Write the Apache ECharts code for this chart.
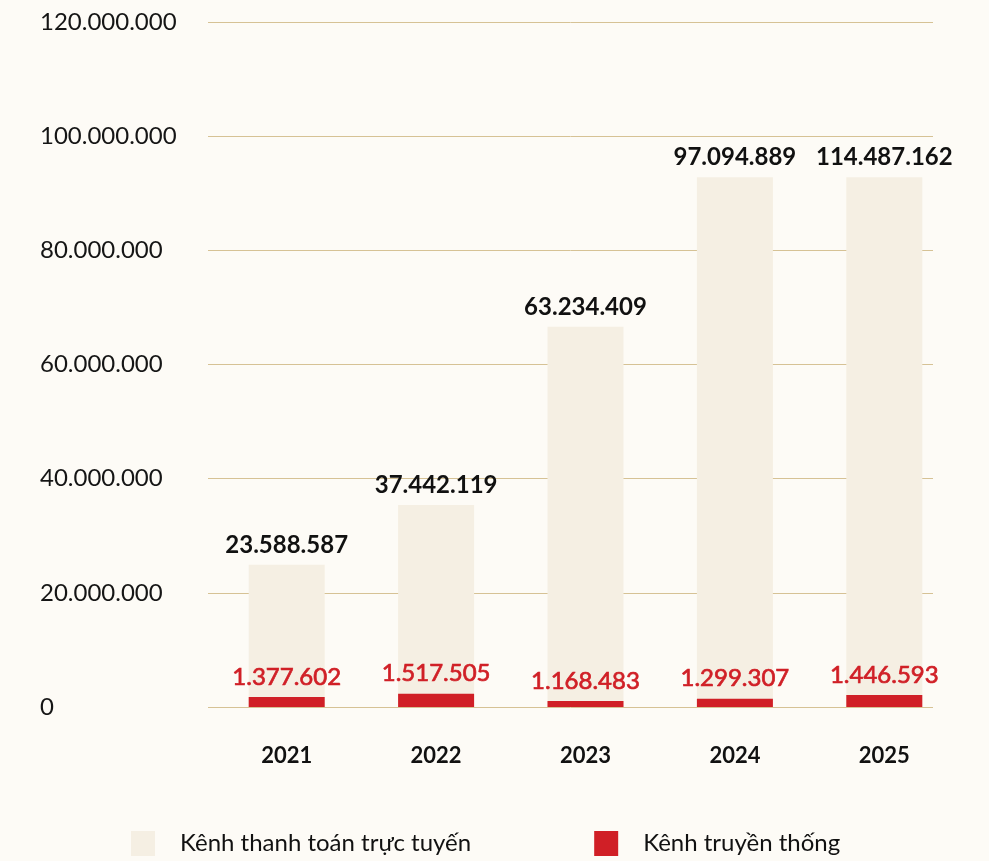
<!DOCTYPE html>
<html>
<head>
<meta charset="utf-8">
<script src="https://cdn.jsdelivr.net/npm/echarts@6/dist/echarts.min.js"></script>
<style>
html,body{margin:0;padding:0;background:#fdfbf6;}
#c{width:989px;height:861px;}
</style>
</head>
<body>
<div id="c"></div>
<script>
const categories = ['2021', '2022', '2023', '2024', '2025'];
const seriesNames = ['Kênh thanh toán trực tuyến', 'Kênh truyền thống'];
// bar heights as drawn in the picture (not to scale with labels)
const onlineBars = [24900000, 35400000, 66600000, 92800000, 92800000];
const traditionalBars = [1750000, 2330000, 1050000, 1450000, 2100000];
// value labels as printed
const onlineLabels = ['23.588.587', '37.442.119', '63.234.409', '97.094.889', '114.487.162'];
const traditionalLabels = ['1.377.602', '1.517.505', '1.168.483', '1.299.307', '1.446.593'];
const yTicks = { min: 0, max: 120000000, interval: 20000000 };

function fmt(v) {
  return String(v).replace(/\B(?=(\d{3})+(?!\d))/g, '.');
}

const chart = echarts.init(document.getElementById('c'));
chart.setOption({
  backgroundColor: '#fdfbf6',
  animation: false,
  textStyle: { fontFamily: 'Lato' },
  grid: [
    { left: 212, right: 30, top: 22, bottom: 154 },
    { left: 208, right: 56, top: 22, bottom: 154 }
  ],
  legend: {
    left: 126, top: 826,
    itemWidth: 24, itemHeight: 25, itemGap: 123,
    icon: 'rect',
    textStyle: { fontSize: 24, color: '#111', fontFamily: 'Lato', padding: [0, 0, 0, 20] },
    data: seriesNames
  },
  xAxis: [
    {
      type: 'category', gridIndex: 0,
      data: categories,
      axisLine: { show: false },
      axisTick: { show: false },
      axisLabel: { fontSize: 22, fontWeight: 'bold', color: '#111', margin: 38, fontFamily: 'Lato' }
    },
    {
      type: 'category', gridIndex: 1, data: categories, show: false
    }
  ],
  yAxis: [
    {
      type: 'value', gridIndex: 0,
      min: yTicks.min, max: yTicks.max, interval: yTicks.interval,
      axisLine: { show: false }, axisTick: { show: false },
      axisLabel: { show: false }, splitLine: { show: false }
    },
    {
      type: 'value', gridIndex: 1,
      min: yTicks.min, max: yTicks.max, interval: yTicks.interval,
      axisLine: { show: false },
      axisTick: { show: false },
      splitLine: { lineStyle: { color: '#d6c295', width: 1 } },
      axisLabel: {
        fontSize: 24, color: '#151515', align: 'left', margin: 168,
        formatter: fmt, fontFamily: 'Lato'
      }
    }
  ],
  series: [
    {
      name: seriesNames[0],
      type: 'bar',
      xAxisIndex: 0, yAxisIndex: 0,
      data: onlineBars,
      barWidth: 76,
      itemStyle: { color: '#f5efe3' },
      label: {
        show: true, position: 'top', distance: 8,
        fontSize: 24, fontWeight: 'bold', color: '#111', fontFamily: 'Lato',
        formatter: p => onlineLabels[p.dataIndex]
      }
    },
    {
      name: seriesNames[1],
      type: 'bar',
      xAxisIndex: 0, yAxisIndex: 0,
      data: traditionalBars,
      barWidth: 76,
      barGap: '-100%',
      itemStyle: { color: '#d01f26' },
      label: {
        show: true, position: 'top', distance: 8,
        fontSize: 24, color: '#d01f26', fontFamily: 'Lato',
        textBorderColor: '#d01f26', textBorderWidth: 0.7,
        formatter: p => traditionalLabels[p.dataIndex]
      }
    }
  ]
});
</script>
</body>
</html>
